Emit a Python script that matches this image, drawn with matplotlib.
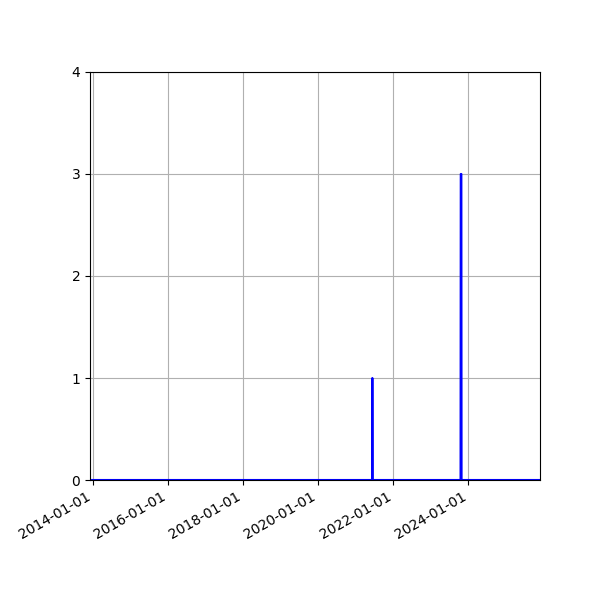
import numpy as np
import pandas as pd
import matplotlib
matplotlib.use('Agg')
import matplotlib.pyplot as plt
import matplotlib.dates as mdates

# daily counts, zero except for the two spikes
start_date = '2013-12-03'
end_date = '2025-11-28'
spike_dates = ['2021-06-11', '2023-10-18', '2023-10-19', '2023-10-20', '2023-10-21',
               '2023-10-22', '2023-10-23', '2023-10-24', '2023-10-25']
spike_values = [1, 3, 3, 3, 3, 3, 3, 3, 3]

days = pd.date_range(start_date, end_date, freq='D')
counts = pd.Series(np.zeros(len(days)), index=days)
counts.loc[pd.to_datetime(spike_dates)] = spike_values

fig = plt.figure(figsize=(6, 6), dpi=100)
ax = fig.add_axes([0.15, 0.2, 0.75, 0.68])
ax.plot(counts.index, counts.values, color='blue', linewidth=1.5)

ax.set_xlim(days[0], days[-1])
ax.set_ylim(0, 4)
ax.set_yticks([0, 1, 2, 3, 4])
ax.xaxis.set_major_locator(mdates.YearLocator(2))
ax.xaxis.set_major_formatter(mdates.DateFormatter('%Y-%m-%d'))
ax.grid(True)
for lbl in ax.get_xticklabels():
    lbl.set_rotation(30)
    lbl.set_ha('right')

fig.savefig('out.png')
